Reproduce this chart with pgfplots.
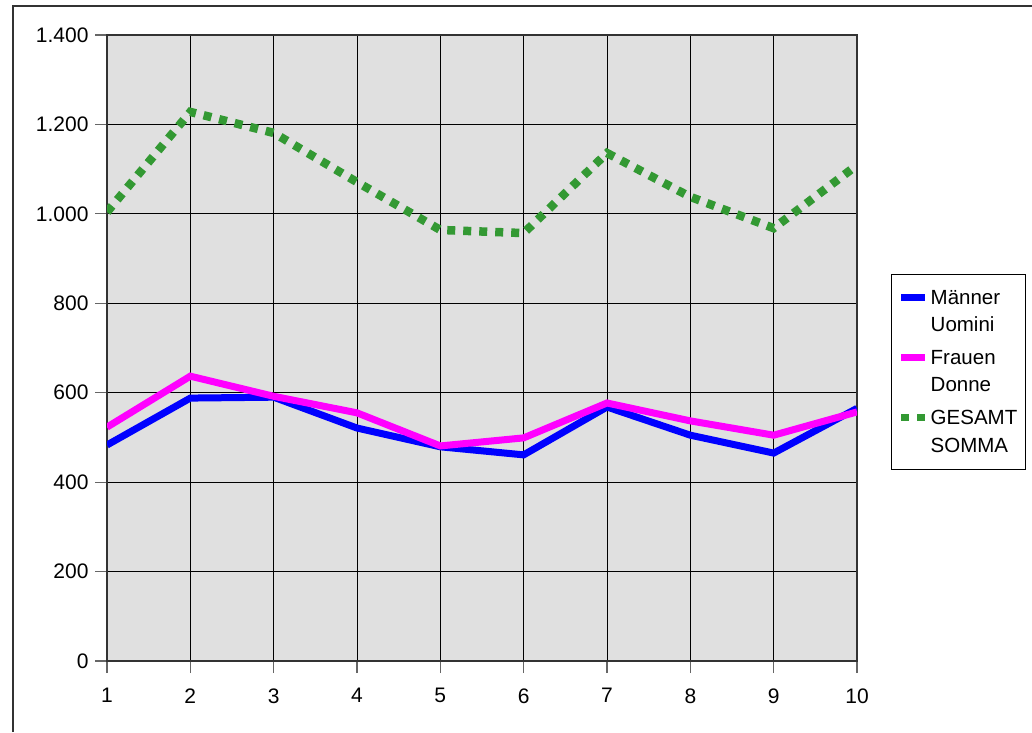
\documentclass[border=0pt]{standalone}
\usepackage{fontspec}
\setmainfont{Liberation Sans}
\usepackage{pgfplots}
\pgfplotsset{compat=1.18}
\definecolor{plotbg}{RGB}{224,224,224}
\definecolor{gesamt}{RGB}{51,153,51}
\definecolor{maenner}{RGB}{0,0,255}
\definecolor{frauen}{RGB}{255,0,255}
\begin{document}
\begin{tikzpicture}
\path[use as bounding box] (0pt,0pt) rectangle (1032pt,732pt);
\draw[line width=1.2pt,black!80] (13pt,0pt) -- (13pt,726pt) -- (1032pt,726pt);
\begin{axis}[
    at={(107pt,71pt)}, anchor=south west,
    scale only axis,
    width=750pt, height=626pt,
    xmin=1, xmax=10, ymin=0, ymax=1400,
    xtick={1,...,10},
    ytick={0,200,...,1400},
    xtick pos=bottom, ytick pos=left,
    grid=major,
    major grid style={black, line width=0.9pt},
    axis background/.style={fill=plotbg},
    axis line style={black!80, line width=1.8pt},
    tick align=outside,
    major tick length=12pt,
    tick style={black!60, line width=1.2pt},
    every tick label/.append style={font=\fontsize{21}{25}\selectfont},
    yticklabel style={xshift=-3pt, /pgf/number format/1000 sep={.}, /pgf/number format/assume math mode=true},
    xticklabel style={yshift=-12pt, /pgf/number format/assume math mode=true},
    legend style={at={(1.045,0.462)}, anchor=west, draw=black, line width=0.9pt,
        font=\fontsize{20.5}{27.5}\selectfont, cells={align=left},
        inner xsep=6.5pt, inner ysep=14pt, row sep=13pt},
    legend cell align=left,
    legend image code/.code={\path[draw=none,fill=none] (0pt,-13pt) -- (24pt,-13pt);
        \draw[#1, line width=7pt] (0pt,14pt) -- (24pt,14pt);},
]
\addplot[maenner, line width=7pt, line join=miter] coordinates {
 (1,483) (2,588) (3,590) (4,521) (5,479) (6,461) (7,568) (8,505) (9,465) (10,565)};
\addlegendentry{M\"anner\\Uomini}
\addplot[frauen, line width=7pt, line join=miter] coordinates {
 (1,523) (2,637) (3,592) (4,555) (5,481) (6,499) (7,577) (8,537) (9,505) (10,557)};
\addlegendentry{Frauen\\Donne}
\addplot[gesamt, line width=8.5pt, dash pattern=on 8pt off 8pt] coordinates {
 (1,1004) (2,1228) (3,1181) (4,1071) (5,964) (6,957) (7,1136) (8,1038) (9,968) (10,1109)};
\addlegendentry{GESAMT\\SOMMA}
\end{axis}
\end{tikzpicture}
\end{document}
